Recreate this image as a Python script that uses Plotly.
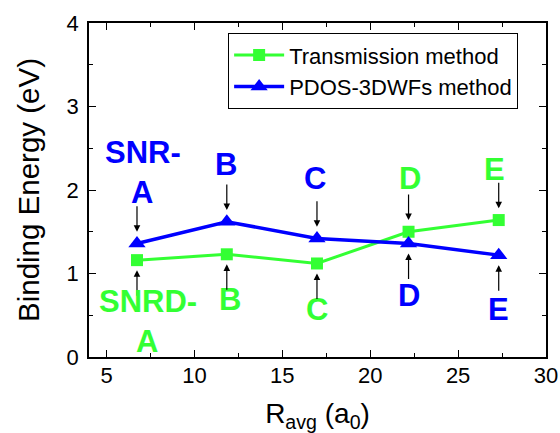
import plotly.graph_objects as go

# ---- data ----
r_avg = [6.73, 11.84, 16.97, 22.18, 27.31]
transmission = [1.16, 1.23, 1.12, 1.50, 1.64]
pdos_3dwfs = [1.36, 1.62, 1.42, 1.36, 1.22]
series_names = ["Transmission method", "PDOS-3DWFs method"]
snr_labels = ["A", "B", "C", "D", "E"]

GREEN = "#33FF33"
BLUE = "#0000FF"
FONT = "Liberation Sans, Arial, sans-serif"

fig = go.Figure()
fig.add_trace(go.Scatter(
    x=r_avg, y=transmission, name=series_names[0], mode="lines+markers",
    line=dict(color=GREEN, width=3),
    marker=dict(symbol="square", size=12, color=GREEN)))
fig.add_trace(go.Scatter(
    x=r_avg, y=pdos_3dwfs, name=series_names[1], mode="lines+markers",
    line=dict(color=BLUE, width=3.5),
    marker=dict(symbol="triangle-up", size=15, color=BLUE)))

annotations = []
lab_font = dict(family=FONT, size=31, weight="bold")

# top labels (above the upper marker of each pair)
top_colors = [BLUE, BLUE, BLUE, GREEN, GREEN]
top_text_y = [1.976, 2.31, 2.14, 2.14, 2.24]
top_dx = [0.29, -0.04, -0.10, 0.10, -0.25]
# bottom labels
bot_colors = [GREEN, GREEN, GREEN, BLUE, BLUE]
bot_text_y = [0.18, 0.69, 0.57, 0.74, 0.57]
bot_dx = [0.57, 0.19, 0.01, 0.04, -0.02]

for i, lab in enumerate(snr_labels):
    hi = max(transmission[i], pdos_3dwfs[i])
    lo = min(transmission[i], pdos_3dwfs[i])
    annotations.append(dict(x=r_avg[i] + top_dx[i], y=top_text_y[i], xref="x", yref="y",
                            text=lab, showarrow=False, font=dict(color=top_colors[i], **lab_font)))
    annotations.append(dict(x=r_avg[i] + bot_dx[i], y=bot_text_y[i], xref="x", yref="y",
                            text=lab, showarrow=False, font=dict(color=bot_colors[i], **lab_font)))
    # arrows
    annotations.append(dict(x=r_avg[i], y=hi + 0.14, xref="x", yref="y", ax=0, ay=-27,
                            text="", showarrow=True, arrowhead=2, arrowsize=1.1,
                            arrowwidth=1.2, arrowcolor="black"))
    annotations.append(dict(x=r_avg[i], y=lo - 0.12, xref="x", yref="y", ax=0, ay=27,
                            text="", showarrow=True, arrowhead=2, arrowsize=1.1,
                            arrowwidth=1.2, arrowcolor="black"))

annotations.append(dict(x=r_avg[0] + 0.34, y=2.455, xref="x", yref="y", text="SNR-",
                        showarrow=False, font=dict(color=BLUE, **lab_font)))
annotations.append(dict(x=r_avg[0] + 0.63, y=0.66, xref="x", yref="y", text="SNRD-",
                        showarrow=False, font=dict(color=GREEN, **lab_font)))

axis_common = dict(
    showline=True, linecolor="black", linewidth=1.5, mirror="ticks",
    ticks="inside", ticklen=7, tickwidth=1.2, tickcolor="black",
    showgrid=False, zeroline=False, automargin=False,
    tickfont=dict(family=FONT, size=22, color="black"),
)

fig.update_layout(
    width=560, height=433,
    margin=dict(l=89, r=14, t=23, b=76),
    paper_bgcolor="white", plot_bgcolor="white",
    font=dict(family=FONT, color="black"),
    xaxis=dict(range=[4, 30], tickmode="linear", tick0=5, dtick=5,
               minor=dict(ticks="inside", ticklen=4, tickwidth=1.2, tickcolor="black",
                          tick0=2.5, dtick=2.5, showgrid=False),
               title=dict(text="R<sub>avg</sub> (a<sub>0</sub>)",
                          font=dict(family=FONT, size=28), standoff=16),
               ticklabelstandoff=-2,
               **axis_common),
    yaxis=dict(range=[0, 4], tickmode="linear", tick0=0, dtick=1,
               minor=dict(ticks="inside", ticklen=4, tickwidth=1.2, tickcolor="black",
                          dtick=0.5, showgrid=False),
               title=dict(text="Binding Energy (eV)",
                          font=dict(family=FONT, size=29.5), standoff=18),
               ticklabelstandoff=4,
               **axis_common),
    legend=dict(x=0.304, y=0.970, xanchor="left", yanchor="top",
                bordercolor="black", borderwidth=1.2, bgcolor="white",
                font=dict(family=FONT, size=22, color="black"),
                tracegroupgap=0, itemwidth=50),
    annotations=annotations,
    showlegend=True,
)

fig.write_html("out.html", config={"displayModeBar": False},
               post_script="document.body.style.margin='0';document.body.style.padding='0';")
